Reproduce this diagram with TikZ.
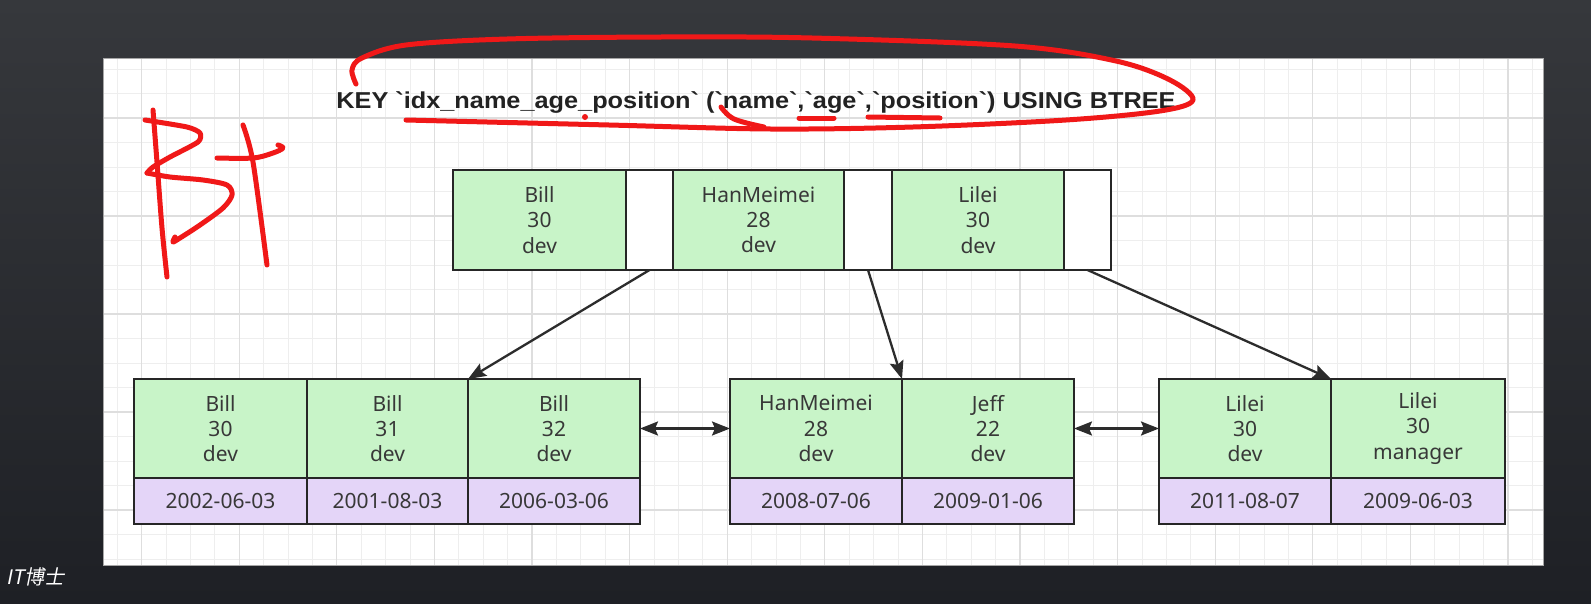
\documentclass[tikz,border=0pt]{standalone}
\usepackage{fontspec}
\usetikzlibrary{arrows.meta}
\setmainfont{Noto Sans}
\newfontfamily\boxfont{Noto Sans}[Ligatures=TeXOff]
\newfontfamily\titlefont{Liberation Sans}[Ligatures=TeXOff]
\newfontfamily\cjkfont{Noto Sans CJK SC}[FakeSlant=0.2]
\newcommand{\bq}{\symbol{96}}
\definecolor{bgtop}{HTML}{36383C}
\definecolor{bgbot}{HTML}{1E2025}
\definecolor{gridminor}{HTML}{EEEEEE}
\definecolor{gridmajor}{HTML}{DEDEDE}
\definecolor{boxline}{HTML}{262626}
\definecolor{txt}{HTML}{383838}
\definecolor{titlec}{HTML}{222222}
\definecolor{cellgreen}{HTML}{C8F4C8}
\definecolor{cellpurple}{HTML}{E4D5F8}
\definecolor{arrc}{HTML}{2C2C2C}
\definecolor{penred}{HTML}{F01818}
\begin{document}
\begin{tikzpicture}[x=1pt,y=-1pt,
  cell/.style={draw=boxline, line width=2.2pt, inner sep=0pt, outer sep=0pt, align=center, text=txt, font=\boxfont\fontsize{21}{25.3}\selectfont},
  gcell/.style={cell, fill=cellgreen, minimum height=100pt},
  wcell/.style={cell, fill=white, minimum height=100pt},
  dcell/.style={cell, fill=cellpurple, minimum height=46pt},
  arr/.style={draw=arrc, line width=2.3pt, -{Stealth[length=18pt,width=14pt,inset=3pt]}},
  darr/.style={draw=arrc, line width=2.3pt, {Stealth[length=18pt,width=14pt,inset=3pt]}-{Stealth[length=18pt,width=14pt,inset=3pt]}},
  pen/.style={draw=penred, line width=5pt, line cap=round, line join=round},
  gminor/.style={draw=gridminor, line width=0.9pt},
  gmajor/.style={draw=gridmajor, line width=1.1pt}]
\useasboundingbox (0,0) rectangle (1591,603);
% background
\shade[top color=bgtop, bottom color=bgbot] (0,0) rectangle (1591,603);
% panel
\fill[white] (103,58) rectangle (1543,565);
\begin{scope}
\clip (103,58) rectangle (1543,565);
\foreach \k in {0,...,58} \draw[gminor] (117.2+\k*24.4,58) -- (117.2+\k*24.4,565);
\foreach \k in {0,...,20} \draw[gminor] (103,69+\k*24.5) -- (1543,69+\k*24.5);
\foreach \k in {0,...,14} \draw[gmajor] (141.6+\k*97.6,58) -- (141.6+\k*97.6,565);
\foreach \k in {0,...,4} \draw[gmajor] (103,118+\k*98) -- (1543,118+\k*98);
\end{scope}
\draw[gray!70, line width=1pt] (103,58) rectangle (1543,565);

% title
\node[font=\titlefont\bfseries\fontsize{23}{27}\selectfont, text=titlec, anchor=base, inner sep=0pt] (title) at (756,108)
  {\scalebox{1.1}[1]{KEY \bq idx\_name\_age\_position\bq{} (\bq name\bq,\bq age\bq,\bq position\bq) USING BTREE}};

% top node
\node[gcell, minimum width=173pt, anchor=north west] (t1) at (453,170) {Bill\\30\\dev};
\node[wcell, minimum width=47pt, anchor=north west] (t2) at (t1.north east) {};
\node[gcell, minimum width=171pt, anchor=north west] (t3) at (t2.north east) {HanMeimei\\28\\dev};
\node[wcell, minimum width=48pt, anchor=north west] (t4) at (t3.north east) {};
\node[gcell, minimum width=172pt, anchor=north west] (t5) at (t4.north east) {Lilei\\30\\dev};
\node[wcell, minimum width=47pt, anchor=north west] (t6) at (t5.north east) {};

% leaf left
\node[gcell, minimum width=173pt, minimum height=99pt, anchor=north west] (l1) at (134,379) {Bill\\30\\dev};
\node[gcell, minimum width=161pt, minimum height=99pt, anchor=north west] (l2) at (l1.north east) {Bill\\31\\dev};
\node[gcell, minimum width=172pt, minimum height=99pt, anchor=north west] (l3) at (l2.north east) {Bill\\32\\dev};
\node[dcell, minimum width=173pt, anchor=north] (l1d) at (l1.south) {2002-06-03};
\node[dcell, minimum width=161pt, anchor=north] (l2d) at (l2.south) {2001-08-03};
\node[dcell, minimum width=172pt, anchor=north] (l3d) at (l3.south) {2006-03-06};

% leaf middle
\node[gcell, minimum width=172pt, minimum height=99pt, anchor=north west] (m1) at (730,379) {HanMeimei\\28\\dev};
\node[gcell, minimum width=172pt, minimum height=99pt, anchor=north west] (m2) at (m1.north east) {Jeff\\22\\dev};
\node[dcell, minimum width=172pt, anchor=north] (m1d) at (m1.south) {2008-07-06};
\node[dcell, minimum width=172pt, anchor=north] (m2d) at (m2.south) {2009-01-06};

% leaf right
\node[gcell, minimum width=172pt, minimum height=99pt, anchor=north west] (r1) at (1159,379) {Lilei\\30\\dev};
\node[gcell, minimum width=174pt, minimum height=99pt, anchor=north west] (r2) at (r1.north east) {Lilei\\30\\manager};
\node[dcell, minimum width=172pt, anchor=north] (r1d) at (r1.south) {2011-08-07};
\node[dcell, minimum width=174pt, anchor=north] (r2d) at (r2.south) {2009-06-03};

% connectors
\draw[arr] (t2.south) -- (l3.north west);
\draw[arr] (t4.south) -- (m2.north west);
\draw[arr] (t6.south) -- (r2.north west);
\draw[darr] (l3.east) -- (m1.west);
\draw[darr] (m2.east) -- (r1.west);

% red annotations: loop round the title
\draw[pen] plot[smooth, tension=0.55] coordinates {(356,84) (352,70) (362,58) (406,45) (507,39) (660,37) (812,38) (1015,46) (1116,61) (1170,80) (1193,100) (1160,111) (1066,120) (913,127) (771,129) (609,125) (406,120)};
\draw[pen] plot[smooth, tension=0.6] coordinates {(721,107) (734,119) (764,127)};
\draw[pen] (799,118) -- (834,118);
\draw[pen] (868,117) -- (940,118);
\fill[penred] (585,117) circle (3pt);

% red B+
\draw[pen] plot[smooth, tension=0.5] coordinates {(153,110) (157,162) (162,228) (167,277)};
\draw[pen] plot[smooth, tension=0.4] coordinates {(145,120) (187,127) (200,133) (198,142) (170,157) (153,167) (147,173)};
\draw[pen] plot[smooth, tension=0.5] coordinates {(147,173) (170,177) (203,180) (227,185) (232,195) (223,208) (200,225) (180,238) (173,242) (175,237)};
\draw[pen] plot[smooth, tension=0.55] coordinates {(217,158) (253,158) (273,153) (283,148) (278,145)};
\draw[pen] plot[smooth, tension=0.5] coordinates {(243,125) (253,162) (267,265)};

% watermark
\node[text=white, font=\cjkfont\fontsize{20}{20}\selectfont, anchor=west, inner sep=0pt] (wm) at (6,577) {IT博士};
\end{tikzpicture}
\end{document}
